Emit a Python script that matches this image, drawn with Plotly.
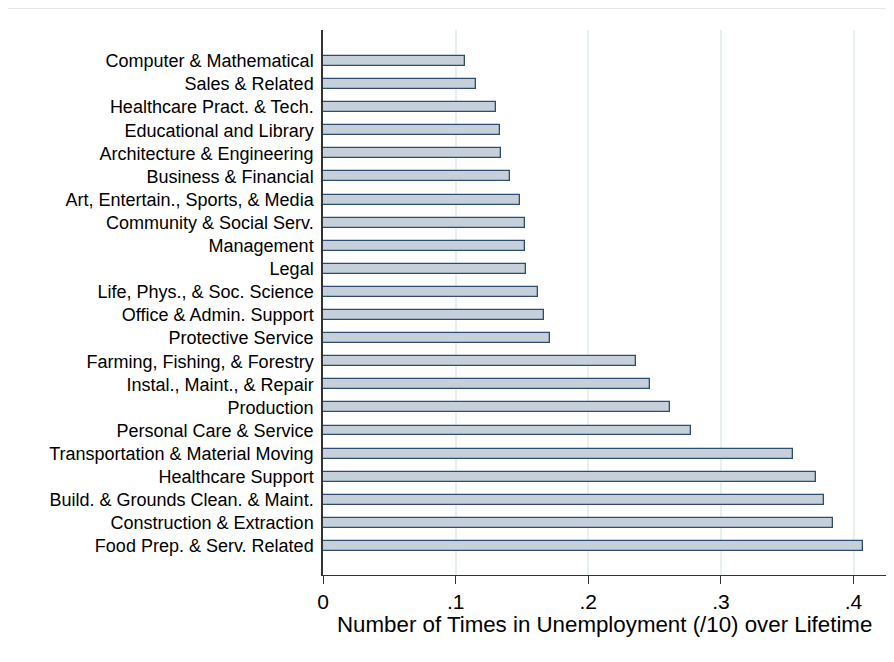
import plotly.graph_objects as go

categories = [
    "Computer & Mathematical",
    "Sales & Related",
    "Healthcare Pract. & Tech.",
    "Educational and Library",
    "Architecture & Engineering",
    "Business & Financial",
    "Art, Entertain., Sports, & Media",
    "Community & Social Serv.",
    "Management",
    "Legal",
    "Life, Phys., & Soc. Science",
    "Office & Admin. Support",
    "Protective Service",
    "Farming, Fishing, & Forestry",
    "Instal., Maint., & Repair",
    "Production",
    "Personal Care & Service",
    "Transportation & Material Moving",
    "Healthcare Support",
    "Build. & Grounds Clean. & Maint.",
    "Construction & Extraction",
    "Food Prep. & Serv. Related",
]
values = [0.107, 0.115, 0.1305, 0.1335, 0.1343, 0.1413, 0.1484, 0.1522, 0.1522, 0.1529,
          0.1618, 0.1668, 0.1708, 0.2361, 0.2469, 0.2618, 0.2774, 0.3547, 0.3719, 0.3779,
          0.3847, 0.4070]
tick_vals = [0, 0.1, 0.2, 0.3, 0.4]
tick_text = ["0", ".1", ".2", ".3", ".4"]
x_title = "Number of Times in Unemployment (/10) over Lifetime"

FONT = "Liberation Sans, Arial, sans-serif"

fig = go.Figure(go.Bar(
    x=values, y=categories, orientation="h",
    width=0.43,
    marker=dict(color="#C6D0DB", line=dict(color="#2E4D70", width=1.3)),
))

fig.update_layout(
    width=886, height=654,
    margin=dict(l=315, r=8, t=22, b=87),
    paper_bgcolor="white", plot_bgcolor="white",
    font=dict(family=FONT, color="black"),
    showlegend=False,
    bargap=0,
    xaxis=dict(
        range=[0, 0.4245],
        tickvals=tick_vals, ticktext=tick_text,
        tickfont=dict(size=21, family=FONT),
        ticks="outside", ticklen=8, tickwidth=1, tickcolor="#333333",
        showline=True, linecolor="#333333", linewidth=1.3,
        showgrid=True, gridcolor="#E9F0F2", gridwidth=2,
        zeroline=False,
    ),
    yaxis=dict(
        type="category",
        categoryorder="array", categoryarray=categories,
        range=[22.255, -1.34],
        tickfont=dict(size=18, family=FONT),
        ticks="outside", ticklen=4, tickcolor="rgba(0,0,0,0)",
        showline=True, linecolor="#333333", linewidth=1.5,
        showgrid=False, zeroline=False,
    ),
    annotations=[dict(text=x_title, xref="paper", yref="paper",
                      x=0.5, y=-50/545, xanchor="center", yanchor="middle",
                      showarrow=False, font=dict(size=22.3, family=FONT, color="black"))],
    shapes=[dict(type="line", xref="paper", yref="paper",
                 x0=-315/563, x1=1+8/563, y0=1+21.5/545, y1=1+21.5/545,
                 line=dict(color="#E6E6E6", width=1))],
)

fig.write_html("out.html")
